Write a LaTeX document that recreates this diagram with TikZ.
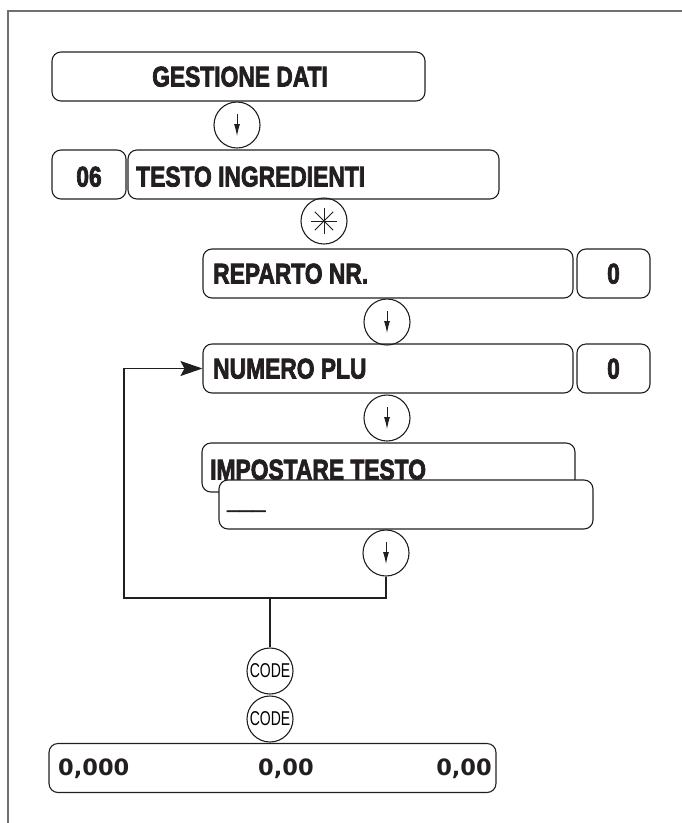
\documentclass[tikz,border=0pt]{standalone}
\usepackage{fontspec}
\usepackage{graphicx}
\usetikzlibrary{arrows.meta,calc}
\newfontfamily\labfont{Liberation Sans}[BoldFeatures={FakeBold=3}]
\newfontfamily\numfont{DejaVu Sans}
\definecolor{ink}{HTML}{231F20}
\definecolor{framec}{HTML}{707070}
\newcommand{\lbl}[1]{{\labfont\bfseries\fontsize{28.5}{32}\selectfont\scalebox{0.8}[1]{#1}}}
\newcommand{\nmb}[1]{{\numfont\bfseries\fontsize{22.5}{26}\selectfont #1}}
\newcommand{\cde}{{\labfont\fontsize{20}{22}\selectfont\scalebox{0.7}[1]{CODE}}}
\begin{document}
\begin{tikzpicture}[x=1pt,y=-1pt,
  box/.style={draw=ink, line width=1.1pt, rounded corners=9pt, inner sep=0pt, minimum height=49pt},
  keyc/.style={draw=ink, line width=1.1pt, circle, minimum size=46pt, inner sep=0pt},
  conn/.style={draw=ink, line width=1.1pt},
  arr/.style={ink, line width=0.9pt, -{Latex[length=12pt,width=6pt]}},
  txt/.style={inner sep=0pt, text=ink},
  star/.style={ink, line width=0.9pt}]
\useasboundingbox (0,0) rectangle (682,823);
\draw[framec, line width=2.2pt] (8,823) -- (8,11) -- (682,11);

% boxes
\node[box, minimum width=373pt] (gest) at (238.5,76.5) {};
\node[txt, anchor=base] (gestt) at (240,86.5) {\lbl{GESTIONE DATI}};
\node[box, minimum width=74pt] (n06) at (89,174.5) {};
\node[txt, anchor=base] (n06t) at (89,186.5) {\lbl{06}};
\node[box, minimum width=371pt] (testo) at (313.5,174.5) {};
\node[txt, anchor=base west] (testot) at (136,186.5) {\lbl{TESTO INGREDIENTI}};
\node[box, minimum width=370pt] (reparto) at (388,273.5) {};
\node[txt, anchor=base west] (repartot) at (213,283.5) {\lbl{REPARTO NR.}};
\node[box, minimum width=73pt] (rep0) at (613.5,273.5) {};
\node[txt, anchor=base] (rep0t) at (613.5,283.5) {\lbl{0}};
\node[box, minimum width=370pt] (numero) at (388,368.5) {};
\node[txt, anchor=base west] (numerot) at (213,378.5) {\lbl{NUMERO PLU}};
\node[box, minimum width=73pt] (num0) at (613.5,368.5) {};
\node[txt, anchor=base] (num0t) at (613.5,378.5) {\lbl{0}};
\node[box, minimum width=373pt] (imp) at (388.5,467.5) {};
\node[txt, anchor=base west] (impt) at (210,479.5) {\lbl{IMPOSTARE TESTO}};
\node[box, fill=white, minimum width=374pt] (inp) at (406,504.5) {};
\node[txt, anchor=base west] (cursor) at (227,508.3) {\lbl{\_\_\_}};
\node[box, minimum width=447pt] (disp) at (272.5,768) {};
\node[txt, anchor=base west] (wgt) at (58,775) {\nmb{0,000}};
\node[txt, anchor=base] (upr) at (286,775) {\nmb{0,00}};
\node[txt, anchor=base east] (tot) at (492,775) {\nmb{0,00}};

% keys
\node[keyc] (c1) at (237,125) {};
\node[keyc] (cast) at (324,221) {};
\node[keyc] (c2) at (387,322) {};
\node[keyc] (c3) at (387,418) {};
\node[keyc] (c4) at (386,553) {};
\node[keyc] (code1) at (270,671) {\cde};
\node[keyc] (code2) at (270,719) {\cde};

\foreach \k in {c1,c2,c3,c4}{
  \draw[arr] ($(\k)+(0,-11)$) -- ($(\k)+(0,11)$);
}
\foreach \a in {0,45,90,135}{
  \draw[star] ($(cast)+(\a:13)$) -- ($(cast)+(\a+180:13)$);
}

% loop
\coordinate (lpL) at (124,598);
\coordinate (lpJ) at (270,598);
\draw[conn, -{Stealth[length=22pt,width=15pt,inset=4pt]}] (c4.south) |- (lpL) |- (numero.west);
\draw[conn] (lpJ) -- (code1.north);
\end{tikzpicture}
\end{document}
